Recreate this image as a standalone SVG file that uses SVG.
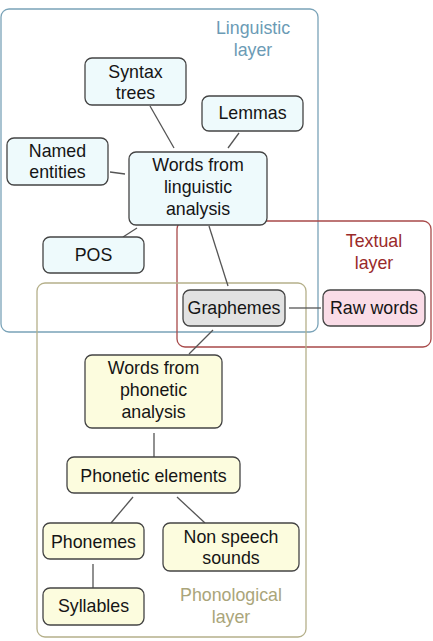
<svg xmlns="http://www.w3.org/2000/svg" width="433" height="641" viewBox="0 0 433 641">
<style>
text{font-family:"Liberation Sans",Arial,sans-serif;font-size:17.8px;text-anchor:middle;fill:#151515}
.lay{fill:none;stroke-width:1.3}
.ling{stroke:#7aa3b8}
.txt{stroke:#a84a4a}
.pho{stroke:#b5b08a}
.n rect{stroke:#444;stroke-width:1.3}
.nl rect{fill:#eefafc}
.np rect{fill:#fcfcde}
.conn line{stroke:#555;stroke-width:1.3}
</style>
<rect width="433" height="641" fill="#fff"/>
<g id="layers">
<rect class="lay ling" x="1" y="9" width="317" height="323" rx="8"/>
<rect class="lay txt" x="177" y="221" width="254" height="126" rx="8"/>
<rect class="lay pho" x="37" y="283" width="269" height="354" rx="8"/>
<text x="253" y="34" style="fill:#6b9bb5">Linguistic</text>
<text x="253" y="56" style="fill:#6b9bb5">layer</text>
<text x="374" y="247" style="fill:#9a2a2a">Textual</text>
<text x="374" y="269" style="fill:#9a2a2a">layer</text>
<text x="231" y="601" style="fill:#aaa57a">Phonological</text>
<text x="231" y="623" style="fill:#aaa57a">layer</text>
</g>
<g id="connectors" class="conn">
<line x1="150" y1="106" x2="174" y2="148"/>
<line x1="239" y1="133" x2="228" y2="148"/>
<line x1="110" y1="172" x2="125" y2="174"/>
<line x1="137" y1="228" x2="123" y2="237"/>
<line x1="209" y1="226" x2="228" y2="286"/>
<line x1="289" y1="308" x2="321" y2="308"/>
<line x1="213" y1="330" x2="189" y2="354"/>
<line x1="154" y1="433" x2="154" y2="457"/>
<line x1="133" y1="497" x2="111" y2="523"/>
<line x1="177" y1="497" x2="205" y2="523"/>
<line x1="93" y1="564" x2="93" y2="588"/>
</g>
<g id="syntax" class="n nl"><rect x="85" y="58" width="101" height="47" rx="7"/><text x="135.5" y="78">Syntax</text><text x="135.5" y="99">trees</text></g>
<g id="lemmas" class="n nl"><rect x="202" y="96" width="101" height="35" rx="7"/><text x="252.5" y="119">Lemmas</text></g>
<g id="named" class="n nl"><rect x="7" y="138" width="101" height="47" rx="7"/><text x="57.5" y="157">Named</text><text x="57.5" y="178">entities</text></g>
<g id="wfla" class="n nl"><rect x="129" y="152" width="138" height="73" rx="7"/><text x="198" y="171">Words from</text><text x="198" y="193">linguistic</text><text x="198" y="215">analysis</text></g>
<g id="pos" class="n nl"><rect x="43" y="237" width="101" height="36" rx="7"/><text x="93.5" y="261">POS</text></g>
<g id="graphemes" class="n"><rect x="183" y="290" width="102" height="36" rx="7" fill="#e2e2e2"/><text x="234" y="314">Graphemes</text></g>
<g id="raw" class="n"><rect x="323" y="290" width="102" height="36" rx="7" fill="#fadce7"/><text x="374" y="314">Raw words</text></g>
<g id="wfpa" class="n np"><rect x="85" y="355" width="137" height="73" rx="7"/><text x="153.5" y="374">Words from</text><text x="153.5" y="396">phonetic</text><text x="153.5" y="418">analysis</text></g>
<g id="phel" class="n np"><rect x="67" y="457" width="173" height="36" rx="7"/><text x="153.5" y="482">Phonetic elements</text></g>
<g id="phonemes" class="n np"><rect x="43" y="523" width="101" height="36" rx="7"/><text x="93.5" y="548">Phonemes</text></g>
<g id="nss" class="n np"><rect x="163" y="523" width="136" height="48" rx="7"/><text x="231" y="543">Non speech</text><text x="231" y="564">sounds</text></g>
<g id="syllables" class="n np"><rect x="43" y="588" width="101" height="37" rx="7"/><text x="93.5" y="612">Syllables</text></g>
</svg>
